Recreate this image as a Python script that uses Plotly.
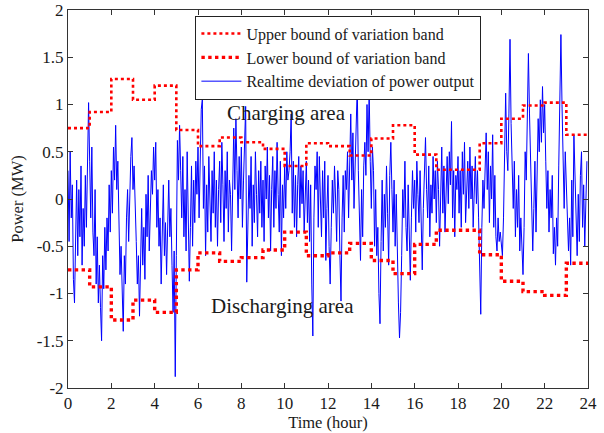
import plotly.graph_objects as go

# Hourly variation band (MW), one value per hour 0..23
hours = list(range(25))
upper_bound = [0.75, 0.92, 1.27, 1.05, 1.20, 0.73, 0.56, 0.65, 0.60, 0.53, 0.35, 0.59,
               0.56, 0.46, 0.64, 0.78, 0.47, 0.31, 0.31, 0.59, 0.85, 0.99, 1.02, 0.68]
lower_bound = [-0.75, -0.93, -1.28, -1.07, -1.20, -0.75, -0.57, -0.66, -0.62, -0.54, -0.35, -0.60,
               -0.57, -0.47, -0.65, -0.79, -0.48, -0.33, -0.33, -0.59, -0.87, -0.98, -1.02, -0.68]

# Realtime deviation of power output, 20 samples per hour (3-minute step)
SAMPLES_PER_HOUR = 20
deviation = [
    # 0-1 h
    0.30, -0.45, 0.50, -0.20, 0.15, -0.85, -1.10, -0.30, 0.20, -0.60, 0.10, -0.40, 0.35, -0.70, -0.10, -0.50, 0.25, -0.30, 0.60, 1.02,
    # 1-2 h
    0.40, -0.20, 0.55, -0.35, -0.60, 0.10, -0.90, -0.40, -1.10, -0.70, -1.15, -1.50, -0.60, -0.95, -0.30, -0.75, -0.20, -0.55, 0.15, -0.35,
    # 2-3 h
    0.30, -0.15, 0.55, 0.20, 0.78, 0.10, 0.40, -0.30, -0.80, -0.50, -1.00, -1.40, -0.60, -0.90, -0.20, 0.10, -0.45, 0.20, 0.45, 0.65,
    # 3-4 h
    0.10, 0.35, -0.20, -0.45, -0.90, -0.60, -1.24, -0.50, -0.10, -0.70, -0.30, -0.85, 0.05, -0.40, 0.25, -0.55, -0.20, 0.30, 0.05, 0.55,
    # 4-5 h
    0.20, 0.60, -0.30, 0.10, -0.50, -0.20, -0.90, -0.45, 0.15, -0.60, -0.25, -0.80, -0.30, 0.20, -0.40, -0.10, -0.70, -1.20, -0.55, -1.88,
    # 5-6 h
    -0.60, 0.62, 0.20, 0.78, 0.30, -0.20, 0.45, -0.40, 0.10, -0.55, 0.50, -0.10, -0.87, -0.30, 0.35, -0.50, 0.20, -0.25, 0.40, 0.05,
    # 6-7 h
    0.55, -0.20, 0.30, 0.95, 1.05, -0.10, 0.35, -0.60, 0.15, -0.35, 0.45, 0.05, -0.45, 0.30, -0.15, 0.50, -0.30, 0.20, -0.50, 0.10,
    # 7-8 h
    0.40, -0.25, 0.60, 0.15, -0.45, 0.30, -0.10, 0.50, -0.35, 0.20, 0.05, -0.55, 0.35, 0.75, 0.10, 0.85, 0.30, -0.20, 0.45, 0.00,
    # 8-9 h
    0.55, -0.30, 0.20, 0.65, 0.98, -0.88, -0.40, 0.25, -0.10, 0.45, -0.50, 0.15, -0.25, 0.50, 0.05, -0.40, 0.30, -0.15, 0.40, -0.30,
    # 9-10 h
    0.20, -0.45, 0.35, 0.00, 0.55, -0.20, 0.25, -0.55, 0.10, 0.45, -0.30, 0.30, -0.10, 0.60, 0.05, -0.35, 0.40, -0.60, 0.15, -0.20,
    # 10-11 h
    0.35, -0.10, 0.50, 0.20, 0.30, 0.50, 0.90, -0.15, 0.40, -0.30, 0.25, -0.40, 0.15, 0.45, -0.20, 0.35, -0.05, 0.30, -0.35, 0.10,
    # 11-12 h
    0.40, -0.25, 0.20, -0.45, 0.15, -0.90, -1.45, -0.20, 0.35, 0.10, 0.50, -0.30, 0.45, 0.00, -0.40, 0.30, -0.20, 0.40, -0.65, -0.10,
    # 12-13 h
    0.25, -0.50, -0.90, -0.30, 0.20, -0.15, 0.35, 0.00, -0.45, 0.30, 0.10, -0.60, -1.08, -0.20, 0.25, -0.35, 0.30, 0.10, 0.50, -0.20,
    # 13-14 h
    0.55, 0.90, 0.20, 0.70, -0.10, 0.45, 0.65, 1.20, 0.30, -0.30, -0.65, 0.10, -0.40, 0.35, 0.60, 0.25, 1.00, 0.50, 1.15, 0.40,
    # 14-15 h
    -0.10, 0.55, 0.30, -0.50, 0.10, -0.60, -0.30, -1.00, -1.32, -0.45, 0.20, -0.55, 0.05, -0.30, 0.35, -0.15, -0.70, 0.25, 0.60, 0.10,
    # 15-16 h
    -0.35, 0.20, -0.50, 0.05, -0.80, -1.10, -1.47, -1.20, -0.60, 0.10, -0.20, 0.40, -0.30, -0.55, 0.15, -0.40, -0.86, -0.20, 0.30, -0.10,
    # 16-17 h
    0.20, -0.35, 0.40, 0.05, -0.25, 0.30, -0.45, -0.75, -0.10, 0.45, 0.65, 0.10, -0.20, 0.35, -0.40, 0.15, -0.15, 0.45, 0.00, 0.30,
    # 17-18 h
    -0.25, 0.40, 0.10, -0.50, 0.25, 0.55, -0.15, 0.35, -0.35, 0.20, 0.45, -0.05, 0.50, 0.15, 0.82, -0.20, 0.30, -0.40, 0.25, 0.10,
    # 18-19 h
    0.45, -0.15, 0.30, -0.30, 0.50, 0.05, 0.60, -0.25, 0.20, 0.40, -0.10, 0.55, 0.00, 0.35, -0.30, 0.25, 0.45, -0.05, 0.30, -0.20,
    # 19-20 h
    -0.60, -1.22, -0.30, 0.20, -0.10, 0.45, 0.70, 0.10, 0.50, -0.25, 0.35, 0.00, 0.68, -0.30, 0.25, -0.40, -0.55, -0.20, -0.45, -0.35,
    # 20-21 h
    -0.50, -0.60, -0.20, 0.30, 1.12, 0.50, 0.30, 0.90, 1.69, 0.80, 0.20, -0.10, 0.40, -0.40, 0.10, -0.30, 0.25, -0.55, -0.20, -0.45,
    # 21-22 h
    -0.80, -0.30, 0.50, 0.20, 1.10, 1.54, 0.90, 0.30, -0.20, -0.55, -0.10, 0.40, -0.35, 0.20, 0.85, 0.50, 1.05, 0.60, 1.19, 0.70,
    # 22-23 h
    1.00, 0.40, -0.10, 0.30, -0.35, 0.10, -0.20, 0.25, -0.58, -0.30, -0.70, -0.20, -0.50, 0.35, 0.90, 1.74, 1.00, 0.40, -0.10, 0.50,
    # 23-24 h
    0.10, -0.30, -0.55, -0.20, -0.70, 0.20, -0.40, 0.68, 0.30, -0.10, -0.60, 0.05, -0.45, 0.25, 0.50, -0.30, 0.15, -0.50, -0.10, 0.40,
]
times = [i / SAMPLES_PER_HOUR for i in range(len(deviation))]

x_ticks = list(range(0, 25, 2))
y_ticks = [-2, -1.5, -1, -0.5, 0, 0.5, 1, 1.5, 2]
y_tick_text = ["-2", "-1.5", "-1", "-0.5", "0", "0.5", "1", "1.5", "2"]

FONT = "Liberation Serif, Times New Roman, serif"
TXT = "#1a1a1a"

fig = go.Figure()
fig.add_trace(go.Scatter(
    x=times, y=deviation, mode="lines", name="Realtime deviation of power output",
    line=dict(color="rgb(0,0,255)", width=1), legendrank=3,
))
fig.add_trace(go.Scatter(
    x=hours, y=upper_bound + [upper_bound[-1]], mode="lines", line_shape="hv",
    name="Upper bound of variation band",
    line=dict(color="rgb(255,0,0)", width=2.6, dash="dot"), legendrank=1,
))
fig.add_trace(go.Scatter(
    x=hours, y=lower_bound + [lower_bound[-1]], mode="lines", line_shape="hv",
    name="Lower bound of variation band",
    line=dict(color="rgb(255,0,0)", width=3.4, dash="dot"), legendrank=2,
))

axis_common = dict(
    showgrid=False, zeroline=False, showline=True, linecolor="#333", linewidth=1,
    mirror="ticks", ticks="inside", ticklen=5, tickcolor="#333", automargin=False,
    tickfont=dict(family=FONT, size=17, color=TXT),
)
fig.update_xaxes(range=[0, 24], tickvals=x_ticks, **axis_common,
                 title=dict(text="Time (hour)", font=dict(family=FONT, size=16.5, color=TXT), standoff=2))
fig.update_yaxes(range=[-2, 2], tickvals=y_ticks, ticktext=y_tick_text, **axis_common,
                 title=dict(text="Power (MW)", font=dict(family=FONT, size=16.5, color=TXT), standoff=8))

fig.add_annotation(x=10.1, y=0.91, text="Charging area", showarrow=False,
                   font=dict(family=FONT, size=21, color=TXT))
fig.add_annotation(x=9.92, y=-1.13, text="Discharging area", showarrow=False,
                   font=dict(family=FONT, size=21, color=TXT))

fig.update_layout(
    width=604, height=433,
    margin=dict(l=68, r=16, t=10, b=45, autoexpand=False),
    paper_bgcolor="white", plot_bgcolor="white",
    showlegend=True,
    legend=dict(x=0.245, y=0.985, xanchor="left", yanchor="top",
                bgcolor="white", bordercolor="#222", borderwidth=1,
                font=dict(family=FONT, size=16, color=TXT),
                tracegroupgap=0, itemwidth=40),
)

fig.write_html("out.html", config={"displayModeBar": False},
               post_script="document.body.style.margin='0';")
